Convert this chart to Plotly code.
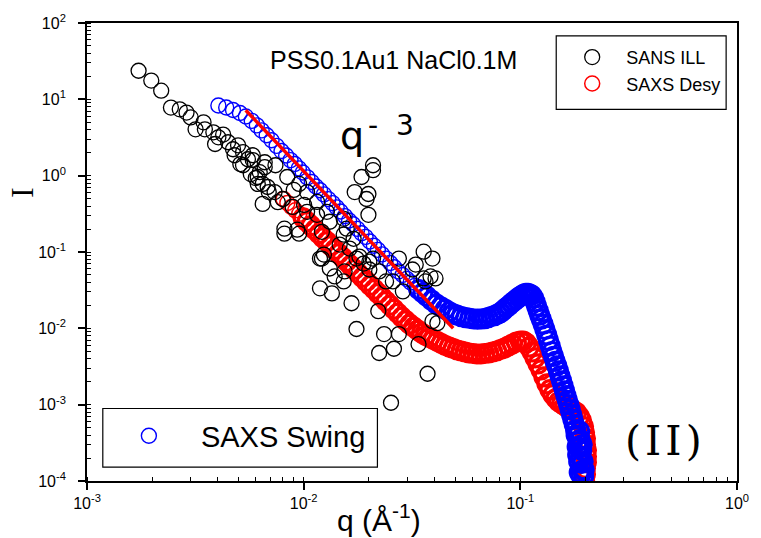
import plotly.graph_objects as go

# ---------------- data ----------------
sans_q = [0.00173, 0.00198, 0.0022, 0.00244, 0.00268, 0.00288, 0.00301, 0.00317, 0.00345, 0.0035,
          0.00383, 0.00404, 0.00425, 0.0039, 0.00448, 0.00472, 0.00498, 0.00525, 0.0048, 0.0051,
          0.00553, 0.00582, 0.00525, 0.0057, 0.00582, 0.00614, 0.00661, 0.00661, 0.00627, 0.00601,
          0.00614, 0.00647, 0.0069, 0.00682, 0.00741, 0.00734, 0.00647, 0.00953, 0.01037, 0.00815,
          0.00934, 0.01037, 0.01153, 0.01214, 0.0132, 0.01189, 0.0132, 0.0209, 0.0209, 0.0185,
          0.0172, 0.0199, 0.0195, 0.0199, 0.01005, 0.01153, 0.0128, 0.0153, 0.0158, 0.017,
          0.0124, 0.01808, 0.0201, 0.0275, 0.0329, 0.0358, 0.0393, 0.0153, 0.0163, 0.01753,
          0.0189, 0.0209, 0.0201, 0.0223, 0.024, 0.0258, 0.0287, 0.0318, 0.0385, 0.0358,
          0.0365, 0.0153, 0.01663, 0.0221, 0.01753, 0.0235, 0.0275, 0.0339, 0.0223, 0.0261,
          0.0393, 0.0373, 0.0253, 0.00815, 0.00953, 0.01214, 0.0139, 0.01189, 0.0135, 0.01466,
          0.01545, 0.0406, 0.0414, 0.0084, 0.008, 0.0089, 0.0076, 0.009]
sans_I = [23.7, 17.6, 13.0, 7.8, 7.4, 6.7, 5.8, 4.05, 5.0, 4.05,
          3.7, 3.18, 3.45, 2.6, 2.74, 2.22, 2.5, 2.03, 1.85, 1.42,
          1.64, 1.85, 1.37, 1.05, 1.6, 0.96, 1.29, 1.5, 1.11, 0.93,
          0.78, 0.78, 0.61, 0.71, 1.37, 0.61, 0.427, 0.78, 0.61, 0.202,
          0.196, 0.336, 0.307, 0.184, 0.249, 0.082, 0.0608, 1.37, 1.18, 0.96,
          0.61, 0.575, 0.495, 0.307, 0.414, 0.453, 0.336, 0.272, 0.202, 0.149,
          0.0925, 0.0871, 0.075, 0.082, 0.0685, 0.101, 0.082, 0.169, 0.111, 0.082,
          0.0706, 0.082, 0.059, 0.0556, 0.0412, 0.0412, 0.0305, 0.059, 0.0479, 0.0451,
          0.0412, 0.0412, 0.0213, 0.0168, 0.0098, 0.0084, 0.0084, 0.0062, 0.00475, 0.0054,
          0.0124, 0.00254, 0.00106, 0.174, 0.174, 0.082, 0.0479, 0.0334, 0.0287, 0.125,
          0.0556, 0.0451, 0.0117, 0.96, 0.495, 0.39, 0.45, 0.65]

desy_q = [0.00807, 0.00841, 0.00877, 0.00915, 0.00954, 0.00995, 0.01037, 0.01082, 0.01128, 0.01177,
          0.01227, 0.0128, 0.01335, 0.01392, 0.01451, 0.01514, 0.01579, 0.01646, 0.01716, 0.01789,
          0.01867, 0.01947, 0.0203, 0.02117, 0.02208, 0.02302, 0.02401, 0.02504, 0.02612, 0.02723,
          0.0284, 0.02962, 0.03089, 0.03221, 0.03359, 0.03503, 0.03653, 0.0381, 0.03973, 0.04143,
          0.0432, 0.04506, 0.04699, 0.049, 0.0511, 0.05329, 0.05557, 0.05795, 0.06043, 0.06302,
          0.06573, 0.06855, 0.07148, 0.07454, 0.07774, 0.08107, 0.08454, 0.08816, 0.09195, 0.09589,
          0.1, 0.1032, 0.1065, 0.1099, 0.1134, 0.117, 0.1208, 0.1247, 0.1286, 0.1327,
          0.137, 0.1414, 0.1459, 0.1505, 0.1554, 0.1603, 0.1655, 0.1708, 0.1762, 0.1818,
          0.1876, 0.1916, 0.1957, 0.1978, 0.1998, 0.1998, 0.2019, 0.2019, 0.2019, 0.1998,
          0.1998, 0.1978]
desy_I = [0.496, 0.44, 0.39, 0.351, 0.316, 0.28, 0.249, 0.221, 0.196, 0.174,
          0.154, 0.137, 0.121, 0.1075, 0.0953, 0.0846, 0.075, 0.0665, 0.059, 0.0523,
          0.0464, 0.0412, 0.0365, 0.0324, 0.0287, 0.0255, 0.0226, 0.02005, 0.01778, 0.01577,
          0.01399, 0.0126, 0.01134, 0.01036, 0.00947, 0.00866, 0.00803, 0.00757, 0.00713, 0.00671,
          0.00632, 0.00595, 0.00569, 0.00544, 0.0052, 0.00505, 0.0049, 0.00475, 0.00468, 0.00461,
          0.00461, 0.00468, 0.00475, 0.0049, 0.00505, 0.00528, 0.00552, 0.00587, 0.00622, 0.00661,
          0.00681, 0.00681, 0.00642, 0.00569, 0.0049, 0.00409, 0.00342, 0.00285, 0.00231, 0.00188,
          0.00157, 0.00135, 0.0012, 0.00109, 0.00103, 0.00097, 0.000914, 0.000887, 0.000835, 0.000787,
          0.000698, 0.000619, 0.000517, 0.000432, 0.000361, 0.000301, 0.000252, 0.00021, 0.000176, 0.000147,
          0.000123, 0.000102]

swing_q = [0.00404, 0.00439, 0.00472, 0.00508, 0.00541, 0.00576, 0.00608, 0.0064, 0.00675, 0.00711,
           0.0075, 0.0079, 0.0083, 0.0087, 0.0091, 0.0095, 0.0099,
           0.0104, 0.0109, 0.0114, 0.0119, 0.0124, 0.013, 0.0136, 0.0142, 0.0148,
           0.0155, 0.0162, 0.0169, 0.0177, 0.0185, 0.0193, 0.0202, 0.0211, 0.022, 0.023,
           0.024, 0.0251, 0.0262, 0.0274, 0.0286, 0.0299, 0.0312, 0.0326, 0.034, 0.0355,
           0.0371, 0.039,
           0.041, 0.043, 0.045, 0.047, 0.049, 0.051,
           0.0535, 0.056, 0.0585, 0.061, 0.0635, 0.066, 0.0685, 0.071, 0.0735, 0.076,
           0.0785, 0.081, 0.0835, 0.086, 0.0885, 0.091, 0.0935, 0.096, 0.0985, 0.101, 0.1035,
           0.106, 0.1085, 0.111,
           0.113, 0.115, 0.117, 0.119, 0.121, 0.123, 0.125,
           0.1275, 0.13, 0.1325, 0.135, 0.1375, 0.14, 0.1425, 0.145, 0.1475, 0.15,
           0.1525, 0.155, 0.1575, 0.16, 0.1625, 0.165, 0.1675, 0.17, 0.1725, 0.175,
           0.1775, 0.18, 0.1825, 0.185, 0.1875, 0.19,
           0.192, 0.194, 0.196,
           0.183, 0.188, 0.192, 0.186, 0.195, 0.19, 0.197, 0.184, 0.189, 0.193, 0.181, 0.187]
swing_I = [8.3, 7.82, 7.26, 6.63, 5.97, 5.22, 4.56, 3.92, 3.38, 2.91,
           2.46, 2.1, 1.84, 1.6, 1.42, 1.245, 1.1,
           0.949, 0.825, 0.721, 0.643, 0.568, 0.493, 0.437, 0.384, 0.339,
           0.295, 0.259, 0.231, 0.201, 0.176, 0.158, 0.1375, 0.121, 0.1065, 0.0932,
           0.082, 0.0717, 0.063, 0.0555, 0.05, 0.0445, 0.04, 0.036, 0.0322, 0.029,
           0.0262, 0.0232,
           0.0207, 0.01917, 0.01778, 0.0165, 0.01553, 0.01485,
           0.0142, 0.01378, 0.0135, 0.01326, 0.01318, 0.01326, 0.01338, 0.01378, 0.01429, 0.01464,
           0.01531, 0.01602, 0.01726, 0.01861, 0.01976, 0.02129, 0.02261, 0.024, 0.02549, 0.02666, 0.02788,
           0.0287, 0.0287, 0.0279,
           0.0271, 0.0251, 0.02226, 0.01945, 0.017, 0.01485, 0.01318,
           0.01134, 0.00962, 0.00816, 0.00692, 0.00587, 0.00497, 0.00428, 0.00368, 0.00322, 0.00277,
           0.00238, 0.00205, 0.00177, 0.00152, 0.00131, 0.00114, 0.001, 0.00086, 0.00074, 0.00064,
           0.00055, 0.00047, 0.00039, 0.00033, 0.00027, 0.00021,
           0.00017, 0.000138, 0.000115,
           0.00028, 0.00045, 0.00025, 0.00018, 0.00018, 0.00012, 0.00014, 0.00022, 0.00035, 0.0003, 0.0004, 0.00013]

fit_q = [0.0054, 0.049]
fit_I = [7.2, 0.0100]

x_tickvals = [0.001, 0.01, 0.1, 1]
x_ticktext = ["10<sup>-3</sup>", "10<sup>-2</sup>", "10<sup>-1</sup>", "10<sup>0</sup>"]
y_tickvals = [1e-4, 1e-3, 1e-2, 1e-1, 1, 10, 100]
y_ticktext = ["10<sup>-4</sup>", "10<sup>-3</sup>", "10<sup>-2</sup>", "10<sup>-1</sup>",
              "10<sup>0</sup>", "10<sup>1</sup>", "10<sup>2</sup>"]

SANS = "Liberation Sans, Arial, sans-serif"
# a figure space (kept by a zero-width space after it) holds the y labels clear of the axis
Y_PAD = "\u2007\u200b"


def split(qs, vals, q_cut):
    """Sparse (low q, individual rings visible) vs dense (overlapping, solid band) points."""
    lo = [(q, v) for q, v in zip(qs, vals) if q < q_cut]
    hi = [(q, v) for q, v in zip(qs, vals) if q >= q_cut]
    return ([a for a, _ in lo], [b for _, b in lo]), ([a for a, _ in hi], [b for _, b in hi])


(desy_lo, desy_hi) = split(desy_q, desy_I, 0.0096)
(swing_lo, swing_hi) = split(swing_q, swing_I, 0.034)

RED = "#ff0000"
BLUE = "#0000ff"

# ---------------- figure ----------------
fig = go.Figure()

fig.add_trace(go.Scatter(x=desy_lo[0], y=desy_lo[1], mode="markers", name="SAXS Desy",
                         legend="legend", legendrank=2, legendgroup="desy",
                         marker=dict(symbol="circle-open", size=15, color=RED,
                                     line=dict(width=1.5, color=RED))))
fig.add_trace(go.Scatter(x=desy_hi[0], y=desy_hi[1], mode="markers", name="SAXS Desy",
                         legend="legend", legendgroup="desy", showlegend=False,
                         marker=dict(symbol="circle-open", size=18, color=RED,
                                     line=dict(width=3.2, color=RED))))
fig.add_trace(go.Scatter(x=swing_lo[0], y=swing_lo[1], mode="markers", name="SAXS Swing",
                         legend="legend2", legendgroup="swing",
                         marker=dict(symbol="circle-open", size=15, color=BLUE,
                                     line=dict(width=1.4, color=BLUE))))
fig.add_trace(go.Scatter(x=swing_hi[0], y=swing_hi[1], mode="markers", name="SAXS Swing",
                         legend="legend2", legendgroup="swing", showlegend=False,
                         marker=dict(symbol="circle-open", size=18, color=BLUE,
                                     line=dict(width=3.2, color=BLUE))))
fig.add_trace(go.Scatter(x=sans_q, y=sans_I, mode="markers", name="SANS ILL",
                         legend="legend", legendrank=1,
                         marker=dict(symbol="circle-open", size=15, color="#000000",
                                     line=dict(width=1.3, color="#000000"))))
fig.add_trace(go.Scatter(x=fit_q, y=fit_I, mode="lines", showlegend=False,
                         line=dict(color=RED, width=3.5)))

axis_common = dict(
    type="log", showgrid=False, zeroline=False,
    showline=True, linecolor="black", linewidth=2, mirror=True,
    ticks="outside", ticklen=7, tickwidth=1.5, tickcolor="black",
    tickmode="array",
    tickfont=dict(family=SANS, size=16, color="black"),
    minor=dict(ticks="inside", ticklen=4, tickwidth=1, tickcolor="black", dtick="D1"),
)
fig.update_xaxes(range=[-3, 0], tickvals=x_tickvals, ticktext=x_ticktext, **axis_common)
fig.update_yaxes(range=[-4, 2], tickvals=y_tickvals,
                 ticktext=[t + Y_PAD for t in y_ticktext], **axis_common)


def px_x(px):
    return (px - 87) / 658.0


def px_y(py):
    return (481 - py) / 461.0


fig.update_layout(
    width=761, height=538,
    margin=dict(l=87, r=16, t=20, b=57),
    paper_bgcolor="white", plot_bgcolor="white",
    font=dict(family=SANS, color="black"),
    legend=dict(x=px_x(564), y=px_y(36), xanchor="left", yanchor="top",
                bgcolor="rgba(0,0,0,0)", borderwidth=0, itemwidth=58,
                font=dict(family=SANS, size=18, color="black"), traceorder="normal"),
    legend2=dict(x=px_x(97), y=px_y(410), xanchor="left", yanchor="top",
                 bgcolor="rgba(0,0,0,0)", borderwidth=0, itemwidth=94,
                 font=dict(family=SANS, size=29, color="black")),
    shapes=[
        dict(type="rect", xref="paper", yref="paper",
             x0=px_x(562), x1=px_x(734), y0=px_y(107), y1=px_y(33),
             line=dict(color="black", width=1.2), fillcolor="rgba(0,0,0,0)", layer="above"),
        dict(type="rect", xref="paper", yref="paper",
             x0=px_x(103), x1=px_x(381), y0=px_y(467), y1=px_y(408),
             line=dict(color="black", width=1.2), fillcolor="rgba(0,0,0,0)", layer="above"),
    ],
    annotations=[
        dict(text="PSS0.1Au1 NaCl0.1M", xref="paper", yref="paper",
             x=px_x(397), y=px_y(57), xanchor="center", yanchor="middle", showarrow=False,
             font=dict(family=SANS, size=25, color="black")),
        dict(text="q", xref="paper", yref="paper",
             x=px_x(355), y=px_y(134), xanchor="center", yanchor="middle", showarrow=False,
             font=dict(family="DejaVu Sans, sans-serif", size=38, color="black")),
        dict(text="-  3", xref="paper", yref="paper",
             x=px_x(395), y=px_y(123), xanchor="center", yanchor="middle", showarrow=False,
             font=dict(family="DejaVu Sans, sans-serif", size=28, color="black")),
        dict(text="(\u200aI\u200aI\u200a)", xref="paper", yref="paper",
             x=px_x(671), y=px_y(441), xanchor="center", yanchor="middle", showarrow=False,
             font=dict(family="DejaVu Serif, serif", size=41, color="black")),
        dict(text="I", xref="paper", yref="paper", textangle=-90,
             x=px_x(22), y=px_y(191), xanchor="center", yanchor="middle", showarrow=False,
             font=dict(family="Liberation Serif, Times New Roman, serif", size=31, color="black")),
        dict(text="q (Å<sup>-1</sup>)", xref="paper", yref="paper",
             x=px_x(383), y=px_y(518), xanchor="center", yanchor="middle", showarrow=False,
             font=dict(family=SANS, size=30, color="black")),
    ],
)

fig.write_html("out.html",
               config={"displayModeBar": False},
               post_script="document.body.style.margin='0px';document.body.style.padding='0px';")
